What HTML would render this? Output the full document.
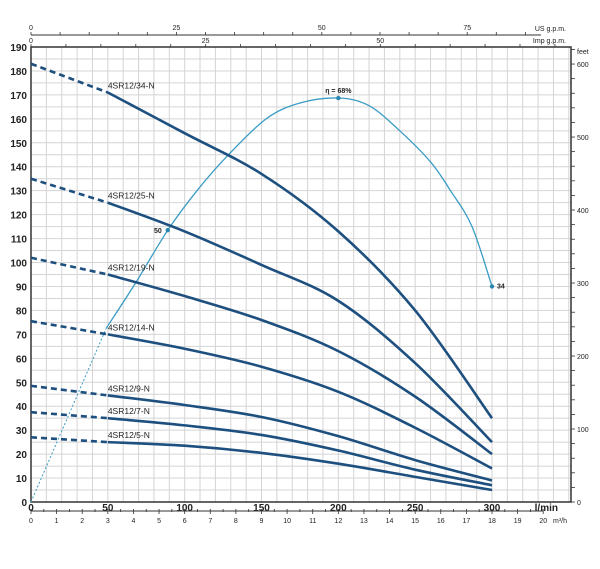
<!DOCTYPE html>
<html><head><meta charset="utf-8"><style>
body{margin:0;background:#fff;}
svg text{font-family:"Liberation Sans",sans-serif;}
</style></head><body>
<svg id="chart" width="600" height="564" xmlns="http://www.w3.org/2000/svg"></svg>
<script>
const flows = [0,50,100,150,200,250,300];
const modelNames = ["4SR12/34-N","4SR12/25-N","4SR12/19-N","4SR12/14-N","4SR12/9-N","4SR12/7-N","4SR12/5-N"];
const head34 = [183,171,154,137,113,80,35];
const head25 = [135,125,113,99,84,58,25];
const head19 = [102,95,86,76,63,44,20];
const head14 = [75.5,70,64,56.5,46,31,14];
const head9 = [48.5,44.5,40.5,35.5,27.5,17.5,9];
const head7 = [37.5,35,32,28,21.5,13.5,7];
const head5 = [27,25,23.5,20.5,16,10.5,5];
const effFlows = [0,49,68,89,108,127,153,175,200,220,240,260,273,287,300];
const effHeadEq = [0,72.6,91.4,113.5,130,144,160,166.6,168.7,165.5,155,142,130,115,90];
const effLabels = [{i:3,t:"50"},{i:8,t:"η = 68%"},{i:14,t:"34"}];
const yTicks = [0,10,20,30,40,50,60,70,80,90,100,110,120,130,140,150,160,170,180,190];
const xTicks = [0,50,100,150,200,250,300];
const feetTicks = [0,100,200,300,400,500,600];
const m3hTicks = [0,1,2,3,4,5,6,7,8,9,10,11,12,13,14,15,16,17,18,19,20];
const usTicks = [0,25,50,75];
const impTicks = [0,25,50];

const X0=31,X1=571,Y0=502,YT=47;
const xs = q => X0 + q*(492-31)/300;
const ys = v => Y0 - v*(Y0-YT)/190;
const svg = document.getElementById('chart');
const NS="http://www.w3.org/2000/svg";
function mk(tag, attrs, parent){const e=document.createElementNS(NS,tag);for(const k in attrs)e.setAttribute(k,attrs[k]);(parent||svg).appendChild(e);return e;}
function txt(x,y,s,size,anchor,weight,fill){const e=mk('text',{x:x,y:y,'font-size':size,'text-anchor':anchor||'middle','font-weight':weight||'normal',fill:fill||'#222'});e.textContent=s;return e;}

const grid = mk('g',{});


for(let q=0;q<=350;q+=10){const x=xs(q); if(x>X1)break; mk('line',{x1:x,y1:YT,x2:x,y2:Y0,stroke:'#d4d4d4','stroke-width':1},grid);}
for(let v=0;v<=190;v+=5){mk('line',{x1:X0,y1:ys(v),x2:X1,y2:ys(v),stroke:'#d4d4d4','stroke-width':1},grid);}
const frame = mk('rect',{x:X0,y:YT,width:X1-X0,height:Y0-YT,fill:'none',stroke:'#333','stroke-width':1.5});



yTicks.forEach(v=>{txt(27,ys(v)+4,String(v),10,'end','bold');});
xTicks.forEach(q=>{txt(xs(q),Y0+9,String(q),10,'middle','bold');});
const xl=txt(558,Y0+9,'l/min',10,'end','bold');


mk('line',{x1:X0,y1:511,x2:xs(20*50/3),y2:511,stroke:'#333','stroke-width':1});
for(let h=0;h<=20;h+=0.5){const x=xs(h*50/3);mk('line',{x1:x,y1:509,x2:x,y2:h%1===0?514:512,stroke:'#333','stroke-width':0.8});}
m3hTicks.forEach(h=>{txt(xs(h*50/3),523,String(h),7);});
txt(560,523,'m³/h',7,'middle');
mk('line',{x1:X0,y1:35,x2:X1-30,y2:35,stroke:'#333','stroke-width':1});
for(let g=0;g<=90;g+=5){const x=xs(g*3.785);if(x>X1-30)break;mk('line',{x1:x,y1:32,x2:x,y2:35,stroke:'#333','stroke-width':0.8});}
usTicks.forEach(g=>txt(xs(g*3.785),30,String(g),7));
txt(566,31,'US g.p.m.',7,'end');
for(let g=0;g<=75;g+=5){const x=xs(g*4.546);if(x>X1)break;mk('line',{x1:x,y1:YT,x2:x,y2:YT-3,stroke:'#333','stroke-width':0.8});}
impTicks.forEach(g=>txt(xs(g*4.546),43,String(g),7));
txt(566,43,'Imp g.p.m.',7,'end');
for(let f=0;f<=620;f+=20){const y=ys(f*0.3048);if(y<YT)break;mk('line',{x1:X1,y1:y,x2:X1+4,y2:y,stroke:'#333','stroke-width':0.8});}
feetTicks.forEach(f=>txt(X1+6,ys(f*0.3048)+3,String(f),7,'start'));
txt(X1+6,54,'feet',7,'start');

function pathFrom(xsArr,ysArr){
  const p=xsArr.map((q,i)=>[xs(q),ys(ysArr[i])]);
  let d='M'+p[0][0]+','+p[0][1];
  for(let i=0;i<p.length-1;i++){
    const p0=p[Math.max(0,i-1)],p1=p[i],p2=p[i+1],p3=p[Math.min(p.length-1,i+2)];
    const c1=[p1[0]+(p2[0]-p0[0])/6,p1[1]+(p2[1]-p0[1])/6];
    const c2=[p2[0]-(p3[0]-p1[0])/6,p2[1]-(p3[1]-p1[1])/6];
    d+=' C'+c1[0]+','+c1[1]+' '+c2[0]+','+c2[1]+' '+p2[0]+','+p2[1];
  }
  return d;
}
const effDash=mk('line',{x1:xs(effFlows[0]),y1:ys(effHeadEq[0]),x2:xs(effFlows[1]),y2:ys(effHeadEq[1]),stroke:'#3a9cc4','stroke-width':1,'stroke-dasharray':'2,2'});


const eff=mk('path',{d:pathFrom(effFlows.slice(1),effHeadEq.slice(1)),fill:'none',stroke:'#3a9cc4','stroke-width':1.3});


effLabels.forEach(l=>{
  const c=mk('circle',{cx:xs(effFlows[l.i]),cy:ys(effHeadEq[l.i]),r:2.2,fill:'#2a88b0'});
  
  
  let tx=xs(effFlows[l.i]),ty=ys(effHeadEq[l.i]),anc='middle';
  if(l.i===3){tx-=6;ty+=3;anc='end';} else if(l.i===14){tx+=5;ty+=2;anc='start';} else {ty-=5;}
  const t=txt(tx,ty,l.t,7,anc,'bold');
  
  
});
const heads=[head34,head25,head19,head14,head9,head7,head5];
heads.forEach((h,k)=>{
  const g=mk('g',{});
  
  
  mk('line',{x1:xs(flows[0]),y1:ys(h[0]),x2:xs(flows[1]),y2:ys(h[1]),stroke:'#1d4f7f','stroke-width':2.6,'stroke-dasharray':'6,4'},g);
  mk('path',{d:pathFrom(flows.slice(1),h.slice(1)),fill:'none',stroke:'#1d4f7f','stroke-width':2.6},g);
  const t=txt(xs(flows[1]),ys(h[1])-4,modelNames[k],8.5,'start','normal','#222');
  
  
});
</script>
</body></html>
